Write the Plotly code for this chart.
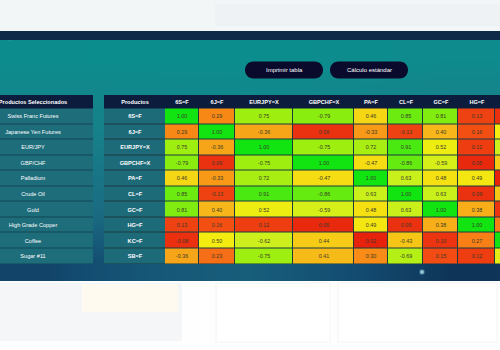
import plotly.graph_objects as go

# ---------------- data ----------------
product_names = ["Swiss Franc Futures", "Japanese Yen Futures", "EUR/JPY", "GBP/CHF",
                 "Palladium", "Crude Oil", "Gold", "High Grade Copper", "Coffee", "Sugar #11"]
tickers = ["6S=F", "6J=F", "EURJPY=X", "GBPCHF=X", "PA=F", "CL=F", "GC=F", "HG=F", "KC=F", "SB=F"]
col_tickers = ["6S=F", "6J=F", "EURJPY=X", "GBPCHF=X", "PA=F", "CL=F", "GC=F", "HG=F", "KC=F"]
left_header = "Productos Seleccionados"
right_header = "Productos"
button_labels = ["Imprimir tabla", "Cálculo estándar"]

corr_6S     = [1.00, 0.29, 0.75, -0.79, 0.46, 0.85, 0.81, 0.13, -0.08]
corr_6J     = [0.29, 1.00, -0.36, 0.09, -0.33, -0.13, 0.40, 0.16, 0.50]
corr_EURJPY = [0.75, -0.36, 1.00, -0.75, 0.72, 0.91, 0.52, 0.12, -0.62]
corr_GBPCHF = [-0.79, 0.09, -0.75, 1.00, -0.47, -0.86, -0.59, 0.05, 0.44]
corr_PA     = [0.46, -0.33, 0.72, -0.47, 1.00, 0.63, 0.48, 0.49, 0.02]
corr_CL     = [0.85, -0.13, 0.91, -0.86, 0.63, 1.00, 0.63, 0.09, -0.43]
corr_GC     = [0.81, 0.40, 0.52, -0.59, 0.48, 0.63, 1.00, 0.38, 0.10]
corr_HG     = [0.13, 0.16, 0.12, 0.05, 0.49, 0.09, 0.38, 1.00, 0.27]
corr_KC     = [-0.08, 0.50, -0.62, 0.44, 0.02, -0.43, 0.10, 0.27, 1.00]
corr_SB     = [-0.36, 0.23, -0.75, 0.41, 0.30, -0.69, 0.15, 0.12, -0.55]
corr = [corr_6S, corr_6J, corr_EURJPY, corr_GBPCHF, corr_PA, corr_CL, corr_GC, corr_HG, corr_KC, corr_SB]

# ---------------- layout constants ----------------
W, H = 500, 350
FONT = "Liberation Sans"
NAVY = "#0c1c3c"
header_top, header_bot = 95.0, 108.5
row_h = 15.55
row_edges = [header_bot + i * row_h for i in range(len(tickers) + 1)]
left_edges = [-27, 93]
prod_edges = [104, 165]
col_widths = [34, 36, 58, 61, 34, 35, 35, 37, 36]
col_edges = [165]
for w in col_widths:
    col_edges.append(col_edges[-1] + w)

fig = go.Figure()

# background gradient (teal -> navy)
bg_x = [0, 100, 200, 300, 400, 500]
bg_y = [40, 80, 120, 160, 200, 240, 281]
bg_z = [
    [0.02, 0.00, 0.00, 0.02, 0.06],
    [0.20, 0.18, 0.16, 0.20, 0.26],
    [0.34, 0.34, 0.31, 0.36, 0.42],
    [0.46, 0.50, 0.46, 0.52, 0.58],
    [0.60, 0.66, 0.60, 0.68, 0.74],
    [0.88, 0.76, 0.70, 0.84, 0.95],
]
fig.add_trace(go.Heatmap(
    x=bg_x, y=bg_y, z=bg_z, zsmooth="best", zmin=0, zmax=1, showscale=False, hoverinfo="skip",
    colorscale=[[0, "#0c8d8d"], [0.3, "#16818a"], [0.6, "#1a6b82"], [0.85, "#134b70"], [1, "#0c2a4c"]]))

# backing (border colour) behind tables
fig.add_trace(go.Heatmap(
    x=left_edges, y=[header_top, row_edges[-1]], z=[[0]], showscale=False, hoverinfo="skip",
    colorscale=[[0, "#114654"], [1, "#114654"]]))
fig.add_trace(go.Heatmap(
    x=[prod_edges[0], col_edges[-1]], y=[header_top, row_edges[-1]], z=[[0]], showscale=False,
    hoverinfo="skip", colorscale=[[0, "#1a3a40"], [1, "#1a3a40"]]))

# left table header
fig.add_trace(go.Heatmap(
    x=left_edges, y=[header_top, header_bot], z=[[0]], text=[["<b>" + left_header + "</b>"]],
    texttemplate="%{text}", textfont=dict(color="white", size=5.6, family=FONT),
    showscale=False, hoverinfo="skip", colorscale=[[0, NAVY], [1, NAVY]]))
# left table rows
fig.add_trace(go.Heatmap(
    x=left_edges, y=row_edges, z=[[0] for _ in product_names], text=[[n] for n in product_names],
    texttemplate="%{text}", textfont=dict(color="white", size=5.6, family=FONT), ygap=1,
    showscale=False, hoverinfo="skip", colorscale=[[0, "#1e6d7b"], [1, "#1e6d7b"]]))

# right table header
fig.add_trace(go.Heatmap(
    x=prod_edges[:1] + col_edges, y=[header_top, header_bot], z=[[0] * (len(col_tickers) + 1)],
    text=[["<b>" + t + "</b>" for t in [right_header] + col_tickers]],
    texttemplate="%{text}", textfont=dict(color="white", size=5.6, family=FONT),
    showscale=False, hoverinfo="skip", colorscale=[[0, NAVY], [1, NAVY]]))
# right table product column
fig.add_trace(go.Heatmap(
    x=prod_edges, y=row_edges, z=[[0] for _ in tickers], text=[["<b>" + t + "</b>"] for t in tickers],
    texttemplate="%{text}", textfont=dict(color="white", size=5.6, family=FONT), ygap=1,
    showscale=False, hoverinfo="skip", colorscale=[[0, "#1d6a79"], [1, "#1d6a79"]]))

# correlation cells (colour by strength |r|)
fig.add_trace(go.Heatmap(
    x=col_edges, y=row_edges, z=[[abs(v) for v in r] for r in corr],
    text=[["%.2f" % v for v in r] for r in corr], texttemplate="%{text}",
    textfont=dict(color="#3a3a2a", size=5.4, family=FONT), xgap=1, ygap=1,
    zmin=0, zmax=1, showscale=False, hoverinfo="skip",
    colorscale=[[0.0, "#e41e0c"], [0.1, "#ec3410"], [0.17, "#f45414"], [0.3, "#f88c16"],
                [0.4, "#f7b61a"], [0.5, "#f4ec10"], [0.62, "#cdf01c"], [0.75, "#9eee10"],
                [0.88, "#5cea10"], [1.0, "#12e412"]]))

# decorative dots
fig.add_trace(go.Scatter(x=[9, 422], y=[37, 272], mode="markers", hoverinfo="skip", showlegend=False,
                         marker=dict(size=[5, 4], color=["#bff8ff", "#e8fbff"],
                                     line=dict(width=2, color="rgba(120,230,255,0.35)"))))


def pill(x0, x1, y0, y1):
    r = (y1 - y0) / 2
    k = 4.0 / 3.0 * r
    return (f"M {x0 + r},{y0} L {x1 - r},{y0} "
            f"C {x1 - r + k},{y0} {x1 - r + k},{y1} {x1 - r},{y1} "
            f"L {x0 + r},{y1} "
            f"C {x0 + r - k},{y1} {x0 + r - k},{y0} {x0 + r},{y0} Z")


shapes = [
    dict(type="rect", x0=0, x1=W, y0=0, y1=31, fillcolor="#f3f6f6", line_width=0, layer="above"),
    dict(type="rect", x0=215, x1=500, y0=4, y1=26, fillcolor="#eceef1", line_width=0, layer="above", opacity=0.5),
    dict(type="rect", x0=0, x1=W, y0=31, y1=40, fillcolor="#0e2a48", line_width=0, layer="above"),
    dict(type="rect", x0=0, x1=W, y0=281, y1=H, fillcolor="#fefefe", line_width=0, layer="above"),
    dict(type="rect", x0=0, x1=182, y0=283, y1=341, fillcolor="#f4f6f7", line_width=0, layer="above"),
    dict(type="rect", x0=82, x1=178, y0=284, y1=312, fillcolor="#fffaf0", line_width=0, layer="above"),
    dict(type="rect", x0=216, x1=330, y0=283, y1=342, fillcolor="#ffffff",
         line=dict(color="#f3f4f5", width=1), layer="above"),
    dict(type="rect", x0=338, x1=497, y0=283, y1=342, fillcolor="#ffffff",
         line=dict(color="#f3f4f5", width=1), layer="above"),
    dict(type="path", path=pill(245, 323, 61.5, 78.5), fillcolor="#0a0a2c", line_width=0, layer="above"),
    dict(type="path", path=pill(330, 408, 61.5, 78.5), fillcolor="#0a0a2c", line_width=0, layer="above"),
]

annotations = [
    dict(x=284, y=70, text=button_labels[0], showarrow=False, font=dict(color="white", size=6, family=FONT)),
    dict(x=369, y=70, text=button_labels[1], showarrow=False, font=dict(color="white", size=6, family=FONT)),
]

fig.update_layout(
    width=W, height=H, margin=dict(l=0, r=0, t=0, b=0),
    paper_bgcolor="white", plot_bgcolor="white", showlegend=False,
    xaxis=dict(range=[0, W], visible=False, fixedrange=True),
    yaxis=dict(range=[H, 0], visible=False, fixedrange=True),
    shapes=shapes, annotations=annotations,
)

fig.write_html("out.html")
